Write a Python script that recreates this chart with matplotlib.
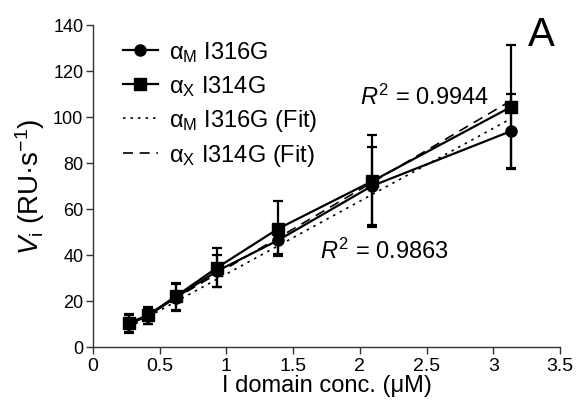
import matplotlib
matplotlib.use("Agg")
import matplotlib.pyplot as plt
from matplotlib.lines import Line2D

plt.rcParams['font.family'] = ['Liberation Sans', 'DejaVu Sans']
plt.rcParams['mathtext.fontset'] = 'custom'
plt.rcParams['mathtext.rm'] = 'Liberation Sans'
plt.rcParams['mathtext.it'] = 'Liberation Sans:italic'
plt.rcParams['mathtext.bf'] = 'Liberation Sans:bold'

# Data
conc = [0.27, 0.41, 0.62, 0.93, 1.39, 2.09, 3.13]
am_vals = [10.0, 13.5, 21.5, 33.0, 46.5, 70.0, 93.8]
am_err = [4.0, 3.5, 6.0, 7.0, 6.0, 17.0, 16.0]
ax_vals = [10.5, 13.8, 22.0, 34.5, 51.5, 72.0, 104.3]
ax_err = [4.0, 3.7, 6.0, 8.5, 12.0, 20.0, 27.0]

fit_x = [0.27, 3.13]
am_fit = [8.6, 99.2]
ax_fit = [9.3, 107.0]

xticks = [0, 0.5, 1, 1.5, 2, 2.5, 3, 3.5]
xticklabels = ['0', '0.5', '1', '1.5', '2', '2.5', '3', '3.5']
yticks = [0, 20, 40, 60, 80, 100, 120, 140]

fig = plt.figure(figsize=(5.82, 4.02), dpi=100)
ax = fig.add_axes([93/582, 1-348/402, (560-93)/582, (348-26)/402])

ax.plot(fit_x, am_fit, color='black', lw=1.2, ls=(0, (1.5, 3)), zorder=2)
ax.plot(fit_x, ax_fit, color='black', lw=1.2, ls=(0, (6, 4)), zorder=2)

ax.errorbar(conc, am_vals, yerr=am_err, color='black', lw=1.6, marker='o', ms=8,
            capsize=3.5, capthick=1.6, elinewidth=1.6, zorder=3)
ax.errorbar(conc, ax_vals, yerr=ax_err, color='black', lw=1.6, marker='s', ms=8.5,
            capsize=3.5, capthick=1.6, elinewidth=1.6, zorder=3)

ax.set_xlim(0, 3.5)
ax.set_ylim(0, 140)
ax.set_xticks(xticks)
ax.set_xticklabels(xticklabels)
ax.set_yticks(yticks)
for s in ['top', 'right']:
    ax.spines[s].set_visible(False)
for s in ['left', 'bottom']:
    ax.spines[s].set_color('#333333')
    ax.spines[s].set_linewidth(1.0)
ax.tick_params(axis='both', direction='out', length=5, width=1.0, color='#333333')
ax.tick_params(axis='x', labelsize=14, pad=2)
ax.tick_params(axis='y', labelsize=13, pad=2)

ax.set_xlabel('I domain conc. (μM)', fontsize=17, labelpad=0)
ax.set_ylabel(r'$V_\mathrm{i}$ (RU·s$^{-1}$)', fontsize=20, labelpad=4)

handles = [
    Line2D([], [], color='black', lw=1.6, marker='o', ms=8),
    Line2D([], [], color='black', lw=1.6, marker='s', ms=8.5),
    Line2D([], [], color='black', lw=1.2, ls=(0, (1.5, 3))),
    Line2D([], [], color='black', lw=1.2, ls=(0, (6, 4))),
]
labels = [r'α$_\mathrm{M}$ I316G', r'α$_\mathrm{X}$ I314G',
          r'α$_\mathrm{M}$ I316G (Fit)', r'α$_\mathrm{X}$ I314G (Fit)']
ax.legend(handles, labels, loc='upper left', bbox_to_anchor=(0.065, 0.955),
          frameon=False, fontsize=17, handlelength=1.45, handletextpad=0.5,
          labelspacing=0.38, borderaxespad=0.0, borderpad=0.0)

ax.text(2.0, 109, r'$R^2$ = 0.9944', fontsize=17, ha='left', va='center')
ax.text(1.7, 42, r'$R^2$ = 0.9863', fontsize=17, ha='left', va='center')
ax.text(3.36, 136, 'A', fontsize=29, ha='center', va='center')

fig.savefig('out.png', dpi=100)
